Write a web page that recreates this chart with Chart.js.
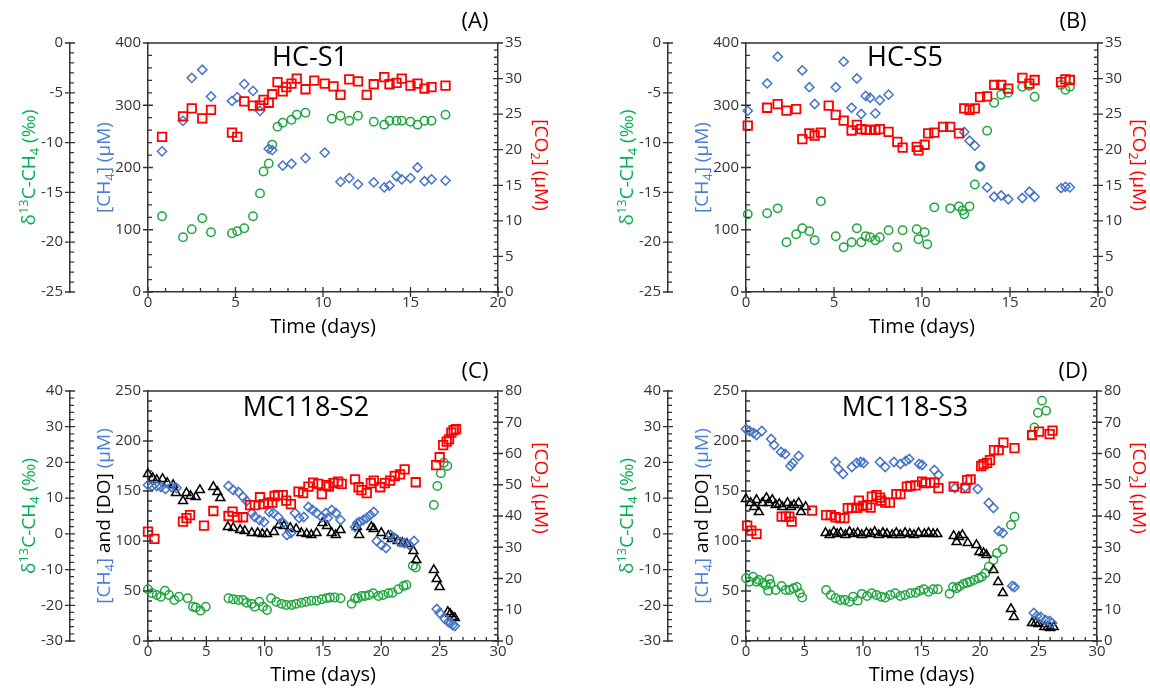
<!DOCTYPE html>
<html>
<head>
<meta charset="utf-8">
<title>Incubation time series</title>
<script src="https://cdn.jsdelivr.net/npm/chart.js@4.4.1/dist/chart.umd.min.js"></script>
<style>
html, body { margin: 0; padding: 0; background: #fff; }
#wrap { position: relative; width: 1150px; height: 690px; overflow: hidden; }
canvas { position: absolute; }
</style>
</head>
<body>
<div id="wrap">
<canvas id="cA" width="552" height="342" style="left:0;top:0"></canvas>
<canvas id="cB" width="552" height="342" style="left:598px;top:0"></canvas>
<canvas id="cC" width="552" height="342" style="left:0;top:348px"></canvas>
<canvas id="cD" width="552" height="342" style="left:598px;top:348px"></canvas>
</div>
<script>
// ---- (A) HC-S1 ----
const aCh4Days = [0.8, 2.0, 2.5, 3.1, 3.6, 4.8, 5.1, 5.5, 6.0, 6.4, 6.9, 7.1, 7.7, 8.2, 9.0, 10.1, 11.0, 11.5, 12.0, 12.9, 13.5, 13.8, 14.2, 14.5, 15.0, 15.4, 15.8, 16.2, 17.0];
const aCh4 = [226, 275, 344, 357, 314, 307, 313, 334, 323, 291, 230, 228, 203, 206, 215, 224, 177, 183, 173, 176, 168, 171, 186, 181, 183, 200, 178, 181, 179];
const aD13cDays = [0.8, 2.0, 2.5, 3.1, 3.6, 4.8, 5.1, 5.5, 6.0, 6.4, 6.6, 6.9, 7.1, 7.4, 7.7, 8.2, 8.5, 9.0, 10.5, 11.0, 11.5, 12.0, 12.9, 13.5, 13.8, 14.2, 14.5, 15.0, 15.4, 15.8, 16.2, 17.0];
const aD13c = [-17.4, -19.5, -18.7, -17.6, -19.0, -19.1, -18.9, -18.6, -17.4, -15.1, -12.9, -12.1, -10.2, -8.4, -8.0, -7.7, -7.2, -7.0, -7.6, -7.3, -7.8, -7.3, -7.9, -8.2, -7.8, -7.8, -7.8, -7.9, -8.2, -7.8, -7.8, -7.2];
const aCo2Days = [0.8, 2.0, 2.5, 3.1, 3.6, 4.8, 5.1, 5.5, 6.0, 6.4, 6.6, 6.9, 7.1, 7.4, 7.7, 7.9, 8.2, 8.5, 9.0, 9.5, 10.1, 10.6, 11.0, 11.5, 12.0, 12.5, 12.9, 13.5, 13.8, 14.2, 14.5, 15.0, 15.4, 15.8, 16.2, 17.0];
const aCo2 = [21.8, 24.7, 25.8, 24.4, 25.6, 22.4, 21.8, 26.8, 26.2, 26.2, 27.0, 26.6, 27.8, 29.5, 28.2, 28.8, 29.3, 30.0, 28.5, 29.7, 29.3, 28.9, 27.7, 29.9, 29.6, 27.7, 29.2, 30.2, 29.2, 29.4, 30.0, 29.0, 29.3, 28.6, 28.8, 29.0];

// ---- (B) HC-S5 ----
const bCh4Days = [0.1, 1.2, 1.8, 3.2, 3.6, 3.9, 5.1, 5.55, 6.0, 6.3, 6.55, 6.8, 7.05, 7.35, 7.6, 8.1, 12.4, 12.7, 13.0, 13.3, 13.7, 14.1, 14.5, 14.9, 15.7, 16.1, 16.4, 17.9, 18.15, 18.4];
const bCh4 = [291, 335, 378, 356, 329, 302, 329, 370, 296, 343, 286, 315, 312, 287, 308, 317, 257, 243, 235, 202, 168, 153, 155, 149, 151, 161, 153, 167, 169, 168];
const bD13cDays = [0.1, 1.2, 1.8, 2.3, 2.85, 3.2, 3.6, 3.9, 4.25, 5.1, 5.55, 6.0, 6.3, 6.55, 6.8, 7.05, 7.35, 7.6, 8.1, 8.6, 8.9, 9.7, 9.8, 10.15, 10.3, 10.7, 11.6, 12.1, 12.3, 12.4, 12.7, 13.0, 13.3, 13.7, 14.1, 14.5, 14.9, 15.7, 16.1, 16.4, 17.9, 18.15, 18.4];
const bD13c = [-17.2, -17.1, -16.6, -20.0, -19.2, -18.6, -18.9, -19.8, -15.9, -19.4, -20.5, -20.0, -18.6, -20.0, -19.4, -19.5, -19.8, -19.5, -18.8, -20.5, -18.8, -18.7, -19.7, -19.0, -20.2, -16.5, -16.6, -16.4, -16.8, -17.2, -16.4, -14.2, -12.4, -8.8, -6.0, -5.2, -5.0, -4.4, -4.3, -5.4, -4.2, -4.7, -4.4];
const bCo2Days = [0.1, 1.2, 1.8, 2.3, 2.85, 3.2, 3.6, 3.9, 4.25, 4.7, 5.1, 5.55, 6.0, 6.3, 6.55, 6.8, 7.05, 7.35, 7.6, 8.1, 8.6, 8.9, 9.7, 9.8, 10.15, 10.35, 10.7, 11.2, 11.6, 12.1, 12.4, 12.7, 13.0, 13.3, 13.7, 14.1, 14.5, 14.9, 15.7, 16.1, 16.4, 17.9, 18.15, 18.4];
const bCo2 = [23.4, 25.9, 26.4, 25.5, 25.7, 21.5, 22.3, 22.0, 22.4, 26.2, 24.9, 24.1, 22.7, 23.5, 22.9, 22.8, 22.8, 22.8, 22.9, 22.5, 21.1, 20.3, 20.4, 19.9, 20.7, 22.3, 22.4, 23.2, 23.2, 22.3, 25.8, 25.6, 25.8, 27.4, 27.5, 29.1, 29.1, 28.6, 30.1, 29.3, 29.8, 29.5, 29.9, 29.8];

// ---- (C) MC118-S2 ----
const cCh4Days = [0, 0.35, 0.75, 1.1, 1.5, 2.0, 2.45, 6.9, 7.3, 7.75, 8.15, 8.45, 8.9, 9.15, 9.55, 9.95, 10.4, 10.75, 11.15, 11.6, 11.9, 12.25, 12.6, 12.95, 13.35, 13.75, 14.1, 14.45, 14.9, 15.25, 15.4, 15.75, 16.1, 16.5, 17.75, 17.95, 18.15, 18.45, 18.75, 19.05, 19.35, 19.6, 20.0, 20.4, 20.8, 21.15, 21.6, 22.0, 22.4, 22.8, 24.75, 25.0, 25.45, 25.75, 25.95, 26.1, 26.3];
const cCh4 = [156, 155, 155, 154, 152, 154, 153, 155, 151, 149, 144, 140, 128, 124, 121, 119, 129, 128, 124, 118, 106, 108, 128, 123, 124, 134, 131, 128, 124, 128, 123, 131, 128, 121, 114, 118, 119, 121, 123, 126, 129, 100, 96, 93, 106, 103, 99, 98, 96, 100, 32, 28, 22, 19, 18, 16, 15];
const cDoDays = [0, 0.4, 0.75, 1.25, 1.65, 2.15, 2.4, 3.0, 3.3, 3.65, 4.1, 4.45, 5.6, 5.95, 6.2, 6.85, 7.3, 7.9, 8.3, 8.9, 9.4, 9.8, 10.2, 10.8, 11.25, 11.65, 12.2, 12.7, 13.15, 13.6, 14.0, 14.45, 14.95, 15.35, 15.75, 16.1, 16.5, 17.9, 18.1, 19.15, 19.35, 20.0, 20.6, 20.9, 21.4, 21.8, 22.2, 22.75, 23.0, 24.5, 24.75, 25.0, 25.7, 25.9, 26.1, 26.3];
const cDo = [167, 163, 161, 162, 158, 156, 148, 140, 148, 145, 144, 151, 154, 149, 143, 114, 113, 111, 110, 108, 108, 107, 107, 109, 116, 115, 113, 112, 108, 107, 106, 108, 118, 115, 108, 106, 111, 114, 106, 114, 112, 108, 105, 102, 100, 98, 97, 90, 81, 71, 62, 54, 29, 27, 24, 23];
const cD13cDays = [0, 0.35, 0.75, 1.1, 1.45, 1.8, 2.25, 2.65, 3.4, 3.85, 4.1, 4.5, 4.95, 6.9, 7.3, 7.75, 8.15, 8.45, 8.9, 9.15, 9.55, 9.85, 10.2, 10.55, 11.0, 11.45, 11.85, 12.3, 12.7, 13.15, 13.55, 14.0, 14.45, 14.9, 15.3, 15.6, 16.0, 16.5, 17.45, 17.75, 18.0, 18.3, 18.6, 18.95, 19.3, 19.75, 20.15, 20.6, 20.95, 21.45, 21.9, 22.15, 22.7, 22.95, 24.5, 24.8, 25.1, 25.35, 25.65];
const cD13c = [-15.5, -16.6, -17.1, -17.6, -15.9, -17.1, -18.5, -17.6, -18.0, -20.4, -20.6, -21.5, -20.4, -18.0, -18.3, -18.5, -18.5, -19.3, -19.6, -20.4, -19.0, -20.4, -21.3, -18.0, -19.0, -19.6, -19.9, -19.9, -19.6, -19.3, -19.0, -18.7, -18.7, -18.3, -18.0, -17.8, -17.8, -18.0, -19.6, -18.0, -18.0, -17.4, -17.4, -17.1, -16.6, -17.4, -17.1, -16.6, -16.5, -15.5, -14.6, -14.3, -8.9, -9.4, 8.1, 13.4, 17.0, 19.9, 19.0];
const cCo2Days = [0, 0.55, 3.0, 3.3, 3.6, 4.8, 5.6, 6.9, 7.25, 7.65, 8.15, 8.75, 9.15, 9.6, 9.95, 10.3, 10.65, 10.85, 11.15, 11.55, 11.85, 12.25, 12.9, 13.3, 13.75, 14.15, 14.6, 14.9, 15.3, 15.5, 15.9, 16.3, 16.6, 17.75, 18.05, 18.3, 18.75, 19.1, 19.35, 19.9, 20.3, 20.75, 21.15, 21.6, 22.0, 22.95, 24.7, 25.0, 25.3, 25.6, 25.8, 26.0, 26.2, 26.4];
const cCo2 = [35.0, 32.7, 38.2, 39.3, 40.3, 36.9, 41.6, 40.0, 41.4, 39.6, 39.6, 43.5, 43.5, 46.0, 43.8, 44.3, 44.3, 46.4, 46.7, 46.7, 44.9, 43.8, 47.8, 47.3, 49.4, 50.7, 50.3, 47.0, 49.9, 49.4, 50.5, 51.0, 50.3, 51.7, 49.2, 48.3, 47.3, 50.5, 51.3, 49.2, 50.5, 51.3, 52.8, 53.3, 54.9, 50.8, 56.3, 58.8, 62.7, 63.8, 64.5, 66.7, 67.5, 67.8];

// ---- (D) MC118-S3 ----
const dCh4Days = [0, 0.3, 0.65, 0.9, 1.35, 2.15, 2.4, 3.0, 3.35, 3.8, 4.0, 4.5, 7.65, 7.9, 8.3, 9.05, 9.45, 9.8, 10.05, 11.45, 11.9, 12.65, 13.2, 13.65, 13.95, 14.8, 15.05, 16.1, 16.45, 17.85, 18.75, 19.8, 20.75, 21.15, 21.6, 21.95, 22.75, 22.95, 24.6, 24.85, 25.2, 25.6, 25.95, 26.15];
const dCh4 = [212, 210, 208, 206, 210, 202, 196, 189, 187, 175, 178, 185, 179, 172, 167, 174, 178, 179, 178, 179, 174, 179, 177, 180, 182, 177, 176, 171, 166, 153, 154, 152, 138, 133, 110, 108, 55, 54, 28, 25, 24, 21, 20, 18];
const dDoDays = [0, 0.4, 0.7, 0.9, 1.1, 1.4, 1.75, 1.95, 2.25, 2.55, 2.85, 3.1, 3.55, 3.85, 4.1, 4.5, 4.7, 5.1, 6.8, 7.15, 7.5, 7.8, 8.1, 8.5, 8.85, 9.2, 9.55, 9.9, 10.3, 10.65, 11.0, 11.35, 11.7, 12.05, 12.5, 12.85, 13.2, 13.6, 14.0, 14.35, 14.75, 15.25, 15.6, 16.0, 16.35, 17.75, 18.0, 18.2, 18.5, 18.95, 19.7, 19.95, 20.3, 20.55, 21.15, 21.55, 21.95, 22.65, 22.9, 24.45, 24.75, 25.0, 25.5, 25.8, 26.0, 26.3];
const dDo = [142, 138, 134, 141, 129, 138, 143, 138, 141, 136, 137, 134, 138, 134, 136, 138, 129, 134, 108, 106, 109, 107, 108, 106, 109, 107, 108, 106, 108, 107, 109, 106, 108, 107, 106, 108, 106, 108, 107, 106, 108, 107, 108, 107, 107, 105, 99, 104, 106, 98, 96, 89, 88, 86, 71, 59, 48, 32, 24, 18, 18, 17, 14, 14, 13, 14];
const dD13cDays = [0, 0.3, 0.6, 0.9, 1.1, 1.45, 1.7, 1.9, 2.0, 2.1, 2.55, 3.05, 3.4, 3.75, 4.05, 4.35, 4.6, 4.8, 6.85, 7.25, 7.65, 8.05, 8.45, 8.85, 9.15, 9.55, 9.9, 10.35, 10.75, 11.15, 11.55, 11.9, 12.35, 12.75, 13.2, 13.6, 14.05, 14.5, 14.85, 15.2, 15.6, 16.0, 16.4, 17.4, 17.7, 18.0, 18.25, 18.6, 18.9, 19.15, 19.5, 19.9, 20.15, 20.45, 20.75, 21.15, 21.45, 21.95, 22.65, 22.95, 24.45, 24.65, 24.95, 25.3, 25.65];
const dD13c = [-12.4, -13.4, -12.0, -13.4, -12.9, -13.7, -14.3, -15.9, -12.7, -14.0, -15.7, -14.6, -15.7, -15.7, -15.2, -14.9, -16.6, -17.8, -15.7, -17.1, -18.0, -18.5, -18.5, -19.0, -17.6, -18.7, -16.8, -17.4, -16.6, -17.1, -17.6, -17.8, -17.1, -16.6, -17.4, -17.1, -16.6, -16.5, -15.9, -15.5, -16.2, -15.5, -15.5, -16.8, -14.9, -15.2, -14.7, -14.0, -13.7, -13.4, -12.9, -12.4, -12.0, -11.0, -9.2, -7.3, -5.4, -4.3, 2.5, 4.8, 27.7, 29.8, 33.9, 37.3, 34.5];
const dCo2Days = [0.1, 0.45, 0.9, 3.05, 3.4, 3.7, 3.9, 5.65, 6.85, 7.25, 7.65, 8.05, 8.4, 8.7, 9.05, 9.5, 9.65, 10.0, 10.35, 10.65, 10.75, 11.15, 11.45, 11.55, 11.9, 12.3, 12.85, 13.2, 13.75, 14.05, 14.5, 15.05, 15.35, 15.75, 16.1, 16.45, 17.75, 18.75, 18.9, 19.2, 20.1, 20.3, 20.6, 20.85, 21.2, 21.6, 22.0, 22.95, 24.45, 25.05, 25.95, 26.2];
const dCo2 = [36.9, 35.3, 34.3, 39.8, 39.8, 39.8, 38.2, 41.7, 40.3, 40.3, 39.6, 39.3, 39.3, 42.5, 42.6, 42.6, 44.9, 43.2, 43.5, 42.7, 46.2, 46.7, 45.9, 44.9, 44.3, 44.3, 47.0, 47.0, 49.4, 49.6, 49.8, 51.0, 50.5, 50.7, 50.7, 48.9, 49.4, 48.9, 51.5, 51.7, 56.0, 56.6, 57.0, 57.9, 61.1, 61.1, 63.5, 61.7, 65.9, 67.0, 66.2, 67.3];

// axis ranges: [min, max, major step, minor step]
const hcD13cAxis = [-25, 0, 5, 1];
const hcCh4Axis = [0, 400, 100, 20];
const hcCo2Axis = [0, 35, 5, 1];
const mcD13cAxis = [-30, 40, 10, 2];
const mcCh4Axis = [0, 250, 50, 10];
const mcCo2Axis = [0, 80, 10, 2];

const FONT = "'Open Sans', 'Noto Sans', sans-serif";
const GREEN = '#1ea53e';
const GREEN_TXT = '#00b050';
const BLUE = '#4674c6';
const BLUE_TXT = '#4a80d4';
const RED = '#ff0000';
const AXIS = '#333333';
const CW = 552, CH = 342;

Chart.defaults.font.family = FONT;

function pts(days, vals) {
    return days.map((d, i) => ({ x: d, y: vals[i] }));
}

function ds(label, days, vals, axis, style, color, r, bw) {
    return {
        label: label,
        data: pts(days, vals),
        yAxisID: axis,
        showLine: false,
        clip: false,
        pointStyle: style,
        pointRadius: r,
        pointBorderColor: color,
        pointBackgroundColor: 'rgba(0,0,0,0)',
        pointBorderWidth: bw,
    };
}

function eachTick(min, max, major, minor, fn) {
    const n = Math.round((max - min) / minor);
    for (let i = 0; i <= n; i++) {
        const v = min + i * minor;
        const q = v / major;
        fn(v, Math.abs(q - Math.round(q)) < 1e-6);
    }
}

// text with sub/superscripts and several colours, centred on (x, y)
function drawRich(ctx, segs, x, y, rot, size) {
    ctx.save();
    ctx.translate(x, y);
    ctx.rotate(rot);
    let total = 0;
    const parts = segs.map(([t, c, k]) => {
        const fs = k ? size * 0.68 : size;
        ctx.font = fs + 'px ' + FONT;
        const w = ctx.measureText(t).width;
        total += w;
        return { t, c, k, fs, w };
    });
    let cx = -total / 2;
    ctx.textBaseline = 'alphabetic';
    const base = size * 0.36;
    for (const p of parts) {
        ctx.font = p.fs + 'px ' + FONT;
        ctx.fillStyle = p.c;
        const dy = p.k === 'sub' ? size * 0.2 : (p.k === 'sup' ? -size * 0.38 : 0);
        ctx.fillText(p.t, cx, base + dy);
        cx += p.w;
    }
    ctx.restore();
}

const panelDeco = {
    id: 'panelDeco',
    afterDraw(chart, args, o) {
        const { ctx, chartArea: ca, scales } = chart;
        ctx.save();
        ctx.strokeStyle = AXIS;
        ctx.lineWidth = 1.3;
        ctx.beginPath();
        const seg = (x1, y1, x2, y2) => { ctx.moveTo(x1, y1); ctx.lineTo(x2, y2); };
        seg(ca.left, ca.top, ca.right, ca.top);
        eachTick(0, o.xMax, 5, 1, (v, big) => {
            const x = scales.x.getPixelForValue(v);
            big ? seg(x, ca.bottom + 5, x, ca.bottom - 5) : seg(x, ca.bottom, x, ca.bottom - 4);
        });
        const xo = scales.yD.right;
        eachTick(o.d13c[0], o.d13c[1], o.d13c[2], o.d13c[3], (v, big) => {
            const y = scales.yD.getPixelForValue(v);
            big ? seg(xo - 5, y, xo + 5, y) : seg(xo, y, xo + 4, y);
        });
        eachTick(o.ch4[0], o.ch4[1], o.ch4[2], o.ch4[3], (v, big) => {
            const y = scales.yC.getPixelForValue(v);
            big ? seg(ca.left - 5, y, ca.left + 5, y) : seg(ca.left, y, ca.left + 4, y);
        });
        eachTick(o.co2[0], o.co2[1], o.co2[2], o.co2[3], (v, big) => {
            const y = scales.yR.getPixelForValue(v);
            big ? seg(ca.right - 5, y, ca.right + 5, y) : seg(ca.right - 4, y, ca.right, y);
        });
        ctx.stroke();
        ctx.restore();

        // panel name and letter
        ctx.save();
        ctx.fillStyle = '#000';
        ctx.textAlign = 'center';
        ctx.textBaseline = 'middle';
        ctx.font = '27px ' + FONT;
        ctx.fillText(o.name, o.nameX, o.nameY);
        ctx.font = '22px ' + FONT;
        ctx.fillText(o.letter, 475, o.letterY);
        ctx.restore();

        const midY = (ca.top + ca.bottom) / 2;
        drawRich(ctx, [['δ', GREEN_TXT], ['13', GREEN_TXT, 'sup'], ['C-CH', GREEN_TXT], ['4', GREEN_TXT, 'sub'], [' (‰)', GREEN_TXT]], 28, midY, -Math.PI / 2, 19);
        if (o.withDo) {
            drawRich(ctx, [['[CH', BLUE_TXT], ['4', BLUE_TXT, 'sub'], [']', BLUE_TXT], [' and [DO] ', '#000'], ['(µM)', BLUE_TXT]], 103, midY, -Math.PI / 2, 19);
        } else {
            drawRich(ctx, [['[CH', BLUE_TXT], ['4', BLUE_TXT, 'sub'], ['] (µM)', BLUE_TXT]], 103, midY, -Math.PI / 2, 19);
        }
        drawRich(ctx, [['[CO', RED], ['2', RED, 'sub'], ['] (µM)', RED]], 542, o.co2TitleY, Math.PI / 2, 19);
    }
};

function makePanel(id, p) {
    const tickFont = { family: FONT, size: 15 };
    const noGrid = { display: false, drawTicks: false };
    const datasets = [
        ds('[CO2]', p.co2Days, p.co2, 'yR', 'rect', RED, 6, 1.8),
        ds('[CH4]', p.ch4Days, p.ch4, 'yC', 'rectRot', BLUE, 4.6, 1.5),
    ];
    if (p.doDays) datasets.push(ds('[DO]', p.doDays, p.doVals, 'yC', 'triangle', '#000', 5.2, 1.5));
    datasets.push(ds('d13C-CH4', p.d13cDays, p.d13c, 'yD', 'circle', GREEN, 4.2, 1.5));

    return new Chart(document.getElementById(id), {
        type: 'scatter',
        data: { datasets: datasets },
        options: {
            responsive: false,
            animation: false,
            events: [],
            layout: { padding: { left: 0, right: 0, top: 43, bottom: 0 } },
            plugins: {
                legend: { display: false },
                tooltip: { enabled: false },
                panelDeco: {
                    xMax: p.xMax, d13c: p.d13cAxis, ch4: p.ch4Axis, co2: p.co2Axis,
                    name: p.name, nameX: p.nameX, nameY: p.nameY, letter: p.letter, letterY: p.letterY,
                    withDo: !!p.doDays, co2TitleY: p.co2TitleY,
                },
            },
            scales: {
                x: {
                    type: 'linear', position: 'bottom', min: 0, max: p.xMax,
                    ticks: { stepSize: 5, color: AXIS, font: tickFont, padding: 2, maxRotation: 0 },
                    grid: noGrid,
                    border: { color: AXIS, width: 1.5 },
                    title: { display: true, text: 'Time (days)', color: '#000', font: { family: FONT, size: 20 }, padding: { top: 0, bottom: 3 } },
                    afterFit: s => { s.height = CH - p.bottom; },
                },
                yD: {
                    type: 'linear', position: 'left', weight: 2,
                    min: p.d13cAxis[0], max: p.d13cAxis[1],
                    ticks: { stepSize: p.d13cAxis[2], color: AXIS, font: tickFont, padding: 7 },
                    grid: noGrid,
                    border: { color: AXIS, width: 1.5 },
                    afterFit: s => { s.width = 70; },
                },
                yC: {
                    type: 'linear', position: 'left', weight: 1,
                    min: p.ch4Axis[0], max: p.ch4Axis[1],
                    ticks: { stepSize: p.ch4Axis[2], color: AXIS, font: tickFont, padding: 7 },
                    grid: noGrid,
                    border: { color: AXIS, width: 1.5 },
                    afterFit: s => { s.width = 78; },
                },
                yR: {
                    type: 'linear', position: 'right',
                    min: p.co2Axis[0], max: p.co2Axis[1],
                    ticks: { stepSize: p.co2Axis[2], color: AXIS, font: tickFont, padding: 7 },
                    grid: noGrid,
                    border: { color: AXIS, width: 1.5 },
                    afterFit: s => { s.width = CW - p.right; },
                },
            },
        },
        plugins: [panelDeco],
    });
}

makePanel('cA', {
    name: 'HC-S1', nameX: 310, nameY: 58, letter: '(A)', letterY: 22,
    right: 498, bottom: 292, xMax: 20, co2TitleY: 165,
    d13cAxis: hcD13cAxis, ch4Axis: hcCh4Axis, co2Axis: hcCo2Axis,
    ch4Days: aCh4Days, ch4: aCh4, d13cDays: aD13cDays, d13c: aD13c, co2Days: aCo2Days, co2: aCo2,
});
makePanel('cB', {
    name: 'HC-S5', nameX: 307, nameY: 58, letter: '(B)', letterY: 22,
    right: 500, bottom: 292, xMax: 20, co2TitleY: 165,
    d13cAxis: hcD13cAxis, ch4Axis: hcCh4Axis, co2Axis: hcCo2Axis,
    ch4Days: bCh4Days, ch4: bCh4, d13cDays: bD13cDays, d13c: bD13c, co2Days: bCo2Days, co2: bCo2,
});
makePanel('cC', {
    name: 'MC118-S2', nameX: 306, nameY: 60, letter: '(C)', letterY: 24,
    right: 498, bottom: 293, xMax: 30, co2TitleY: 140,
    d13cAxis: mcD13cAxis, ch4Axis: mcCh4Axis, co2Axis: mcCo2Axis,
    ch4Days: cCh4Days, ch4: cCh4, doDays: cDoDays, doVals: cDo, d13cDays: cD13cDays, d13c: cD13c, co2Days: cCo2Days, co2: cCo2,
});
makePanel('cD', {
    name: 'MC118-S3', nameX: 307, nameY: 60, letter: '(D)', letterY: 24,
    right: 499, bottom: 293, xMax: 30, co2TitleY: 140,
    d13cAxis: mcD13cAxis, ch4Axis: mcCh4Axis, co2Axis: mcCo2Axis,
    ch4Days: dCh4Days, ch4: dCh4, doDays: dDoDays, doVals: dDo, d13cDays: dD13cDays, d13c: dD13c, co2Days: dCo2Days, co2: dCo2,
});
</script>
</body>
</html>
